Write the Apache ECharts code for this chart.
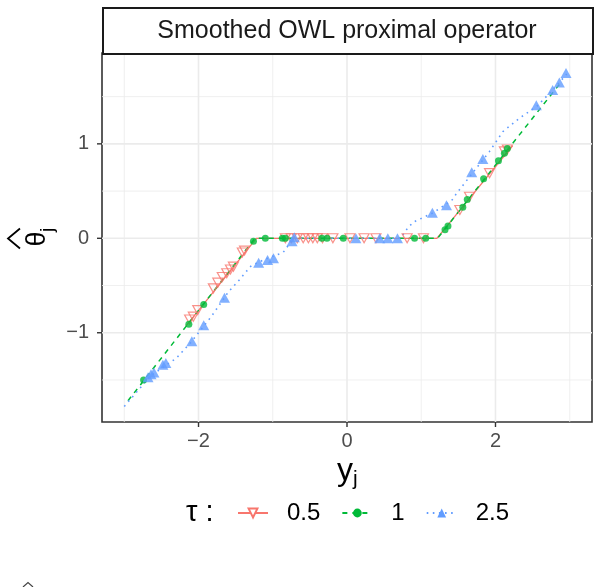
<!DOCTYPE html>
<html>
<head>
<meta charset="utf-8">
<script src="https://cdn.jsdelivr.net/npm/echarts@6/dist/echarts.min.js"></script>
<style>
  html, body { margin: 0; padding: 0; background: #fff; }
  #chart { width: 599px; height: 587px; }
</style>
</head>
<body>
<div id="chart"></div>
<script>
// values
const tauLevels = ['0.5', '1', '2.5']
const xTicks = [-2, 0, 2]
const yTicks = [-1, 0, 1]
const xMinorGrid = [-3, -1, 1, 3]
const yMinorGrid = [-1.5, -0.5, 0.5, 1.5]
const xRange = [-3.3, 3.3]
const yRange = [-1.945, 1.962]

// operator curves (line layer)
const curve05 = [[-2.17, -0.93], [-1.22, 0], [1.21, 0], [2.23, 0.98]]
const curve1 = [[-2.95, -1.72], [-1.24, 0], [1.22, 0], [2.87, 1.64]]
const curve25 = [
  [-3.0, -1.78], [-2.65, -1.46], [-2.3, -1.27], [-2.1, -1.1], [-1.82, -0.82],
  [-1.6, -0.57], [-1.45, -0.44], [-1.29, -0.29], [-1.1, -0.22], [-0.86, -0.15],
  [-0.72, 0], [0.72, 0], [0.81, 0.1], [0.89, 0.17], [1.16, 0.27], [1.41, 0.4],
  [1.48, 0.48], [1.92, 0.92], [2.1, 1.13], [2.32, 1.27], [2.56, 1.4],
  [2.77, 1.57], [2.96, 1.74]
]

// observed points (point layer)
const points05 = [
  [-2.12, -0.86], [-2.07, -0.83], [-2.01, -0.76], [-1.8, -0.53], [-1.74, -0.47],
  [-1.68, -0.41], [-1.62, -0.37], [-1.57, -0.33], [-1.53, -0.3], [-1.41, -0.15],
  [-1.38, -0.13],
  [-0.83, 0], [-0.75, 0], [-0.67, 0], [-0.59, 0], [-0.52, 0], [-0.46, 0],
  [-0.4, 0], [-0.33, 0], [-0.19, 0], [0.04, 0], [0.23, 0], [0.39, 0],
  [0.81, 0], [1.03, 0],
  [1.52, 0.3], [1.65, 0.44], [1.92, 0.69], [2.12, 0.92], [2.16, 0.94]
]
const points1 = [
  [-2.74, -1.5], [-2.13, -0.91], [-1.93, -0.7], [-1.26, -0.03], [-1.1, 0],
  [-0.87, 0], [-0.83, 0], [-0.34, 0], [-0.27, 0], [-0.05, 0], [0.91, 0], [1.06, 0],
  [1.32, 0.09], [1.36, 0.13], [1.56, 0.33], [1.62, 0.41], [1.84, 0.63],
  [2.04, 0.82], [2.12, 0.9], [2.16, 0.95]
]
const points25 = [
  [-2.68, -1.47], [-2.64, -1.44], [-2.6, -1.42], [-2.48, -1.34], [-2.44, -1.32],
  [-2.09, -1.09], [-1.93, -0.92], [-1.65, -0.63], [-1.19, -0.26], [-1.07, -0.23],
  [-0.99, -0.21], [-0.74, -0.03], [-0.71, 0.01], [0.12, 0], [0.44, 0], [0.55, 0],
  [0.68, 0], [1.15, 0.27], [1.34, 0.35], [1.68, 0.7], [1.83, 0.84],
  [2.55, 1.41], [2.77, 1.57], [2.86, 1.65], [2.95, 1.75]
]

const FONT = '"Liberation Sans", Arial, sans-serif'
const red = '#F8766D'
const green = '#00BA38'
const blue = '#619CFF'

const minus = (v) => String(v).replace('-', '\u2212')

// [axis (0 = vertical line at x, 1 = horizontal line at y), value, major]
const gridRows = []
xMinorGrid.forEach(v => gridRows.push([0, v, 0]))
yMinorGrid.forEach(v => gridRows.push([1, v, 0]))
xTicks.forEach(v => gridRows.push([0, v, 1]))
yTicks.forEach(v => gridRows.push([1, v, 1]))

const tickRows = []
xTicks.forEach(v => tickRows.push([0, v]))
yTicks.forEach(v => tickRows.push([1, v]))

const renderGrid = (params, api) => {
  const v = api.value(1)
  const a = api.value(0) === 0 ? api.coord([v, yRange[0]]) : api.coord([xRange[0], v])
  const b = api.value(0) === 0 ? api.coord([v, yRange[1]]) : api.coord([xRange[1], v])
  return {
    type: 'line',
    shape: { x1: a[0], y1: a[1], x2: b[0], y2: b[1] },
    style: { stroke: '#ebebeb', lineWidth: api.value(2) ? 1.6 : 0.8 }
  }
}

const renderTick = (params, api) => {
  const v = api.value(1)
  if (api.value(0) === 0) {
    const p = api.coord([v, yRange[0]])
    return { type: 'line', shape: { x1: p[0], y1: p[1], x2: p[0], y2: p[1] + 5 }, style: { stroke: '#333', lineWidth: 1.4 } }
  }
  const p = api.coord([xRange[0], v])
  return { type: 'line', shape: { x1: p[0] - 5, y1: p[1], x2: p[0], y2: p[1] }, style: { stroke: '#333', lineWidth: 1.4 } }
}

const chart = echarts.init(document.getElementById('chart'))

const option = {
  animation: false,
  textStyle: { fontFamily: FONT },
  grid: {
    left: 102, right: 7, top: 53, bottom: 165,
    show: true, borderColor: '#333333', borderWidth: 1.6, backgroundColor: '#fff'
  },
  xAxis: {
    type: 'value', min: xRange[0], max: xRange[1],
    axisLine: { show: false },
    axisTick: { show: false },
    axisLabel: { customValues: xTicks, color: '#4d4d4d', fontSize: 20, margin: 9, formatter: minus },
    splitLine: { show: false }
  },
  yAxis: {
    type: 'value', min: yRange[0], max: yRange[1],
    axisLine: { show: false },
    axisTick: { show: false },
    axisLabel: { customValues: yTicks, color: '#4d4d4d', fontSize: 20, margin: 13, formatter: minus },
    splitLine: { show: false }
  },
  legend: {
    data: tauLevels,
    left: 237, top: 501, padding: 0,
    itemWidth: 30, itemHeight: 11, itemGap: 21,
    selectedMode: false,
    textStyle: { fontSize: 24, color: '#000', padding: [0, 0, 0, 14] }
  },
  graphic: [
    // facet strip
    {
      type: 'rect', left: 102, top: 7, z: 10,
      shape: { width: 490, height: 46 },
      style: { fill: '#fff', stroke: '#1a1a1a', lineWidth: 2 }
    },
    {
      type: 'text', x: 347, y: 31, z: 11,
      style: { text: 'Smoothed OWL proximal operator', font: '25px ' + FONT, fill: '#1a1a1a', align: 'center', verticalAlign: 'middle' }
    },
    // x axis title y_j
    {
      type: 'text', x: 337, y: 471, z: 11,
      style: { text: 'y', font: '32px ' + FONT, fill: '#000', align: 'left', verticalAlign: 'middle' }
    },
    {
      type: 'text', x: 353, y: 479, z: 11,
      style: { text: 'j', font: '21px ' + FONT, fill: '#000', align: 'left', verticalAlign: 'middle' }
    },
    // y axis title theta-hat_j (rotated)
    {
      type: 'group', x: 38, y: 238, rotation: Math.PI / 2, z: 11,
      children: [
        { type: 'text', x: -1, y: 0, style: { text: '\u03b8', font: '27px ' + FONT, fill: '#000', align: 'center', verticalAlign: 'middle' } },
        { type: 'text', x: 6, y: 10, style: { text: 'j', font: '19px ' + FONT, fill: '#000', align: 'left', verticalAlign: 'middle' } },
        { type: 'polyline', shape: { points: [[-10.5, -18], [-0.5, -30], [9.5, -18]] }, style: { stroke: '#000', lineWidth: 1.8, fill: null } }
      ]
    },
    // legend title
    {
      type: 'text', x: 186, y: 513, z: 11,
      style: { text: '\u03c4 :', font: '29px ' + FONT, fill: '#000', align: 'left', verticalAlign: 'middle' }
    },
    // clipped hat peeking at the bottom edge
    {
      type: 'polyline', z: 11,
      shape: { points: [[23, 587], [28, 582.5], [33, 587]] },
      style: { stroke: '#444', lineWidth: 1.2, fill: null }
    }
  ],
  series: [
    {
      name: 'grid', type: 'custom', data: gridRows, renderItem: renderGrid,
      encode: { x: -1, y: -1 }, silent: true, z: 1
    },
    {
      name: 'ticks', type: 'custom', data: tickRows, renderItem: renderTick,
      encode: { x: -1, y: -1 }, silent: true, clip: false, z: 1
    },
    {
      name: '0.5', type: 'line', data: curve05, showSymbol: false,
      symbol: 'emptyTriangle', symbolRotate: 180,
      lineStyle: { color: red, width: 1.3, type: 'solid' },
      itemStyle: { color: red },
      z: 2, silent: true
    },
    {
      name: '1', type: 'line', data: curve1, showSymbol: false,
      symbol: 'circle',
      lineStyle: { color: green, width: 1.5, type: [5, 5] },
      itemStyle: { color: green },
      z: 2, silent: true
    },
    {
      name: '2.5', type: 'line', data: curve25, showSymbol: false,
      symbol: 'triangle',
      lineStyle: { color: blue, width: 1.6, type: [1.6, 4.5] },
      itemStyle: { color: blue },
      z: 2, silent: true
    },
    {
      name: 'pts 0.5', type: 'scatter', data: points05,
      symbol: 'triangle', symbolRotate: 180, symbolSize: [10, 9],
      itemStyle: { color: 'rgba(255,255,255,0)', borderColor: red, borderWidth: 1.2 },
      z: 3, silent: true
    },
    {
      name: 'pts 1', type: 'scatter', data: points1,
      symbol: 'circle', symbolSize: 7,
      itemStyle: { color: green },
      z: 3, silent: true
    },
    {
      name: 'pts 2.5', type: 'scatter', data: points25,
      symbol: 'triangle', symbolSize: [11, 10],
      itemStyle: { color: blue },
      z: 3, silent: true
    }
  ]
}

chart.setOption(option)
</script>
</body>
</html>
